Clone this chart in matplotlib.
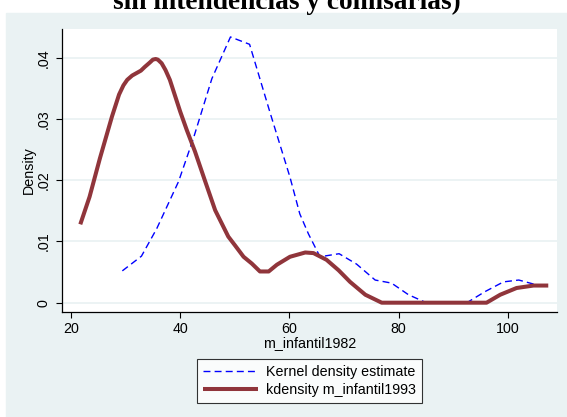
import numpy as np
import matplotlib
matplotlib.use('Agg')
import matplotlib.pyplot as plt
from matplotlib.patches import Rectangle

# kernel density 1982 (dashed blue)
x82 = [29.4, 32.9, 35.7, 39.7, 42.4, 45.8, 49.2, 52.7, 56.5, 60.1, 61.9, 63.5,
       65.6, 69.1, 72.3, 75.7, 78.7, 81.8, 84.8, 88.2, 92.5, 95.8, 99.2, 102.0, 105.3]
y82 = [0.0052, 0.0076, 0.0121, 0.0198, 0.0268, 0.0366, 0.0434, 0.0422, 0.0309,
       0.0205, 0.0145, 0.0112, 0.0075, 0.0080, 0.0063, 0.0037, 0.0032, 0.0013,
       0.0001, 0.0, 0.0, 0.0018, 0.0034, 0.0037, 0.0029]

# kdensity 1993 (thick maroon)
x93 = [21.7, 23.4, 25.3, 27.5, 28.8, 29.6, 30.3, 31.2, 32.0, 32.8, 33.5, 34.4,
       35.0, 35.5, 35.9, 36.6, 37.3, 38.1, 40.0, 41.2, 42.7, 44.5, 46.4, 48.8,
       50.0, 51.6, 53.1, 54.6, 56.2, 57.7, 60.1, 62.9, 64.4, 66.8, 69.0, 71.1,
       73.9, 76.9, 96.1, 98.6, 101.6, 104.7, 107.4]
y93 = [0.0128, 0.0173, 0.0236, 0.0304, 0.0340, 0.0355, 0.0364, 0.0371, 0.0375,
       0.0379, 0.0385, 0.0392, 0.0397, 0.0398, 0.0397, 0.0391, 0.0380, 0.0364,
       0.0312, 0.0282, 0.0247, 0.0200, 0.0151, 0.0108, 0.0094, 0.0075, 0.0064,
       0.0051, 0.0051, 0.0062, 0.0075, 0.0082, 0.0081, 0.0070, 0.0053, 0.0034,
       0.0013, 0.0, 0.0, 0.0013, 0.0024, 0.0028, 0.0028]

xticks = [20, 40, 60, 80, 100]
yticks = [0, 0.01, 0.02, 0.03, 0.04]
ylabels = ['0', '.01', '.02', '.03', '.04']

W, H = 567, 417
bg = '#EAF2F3'
plt.rcParams['font.family'] = ['Liberation Sans', 'DejaVu Sans']

fig = plt.figure(figsize=(W / 100, H / 100), dpi=100)
fig.patches.append(Rectangle((6 / W, 0), (W - 6) / W, (H - 13) / H,
                             transform=fig.transFigure, color=bg, zorder=-10))
fig.text(287 / W, 1 - 9.3 / H, 'sin intendencias y comisarias)', ha='center',
         va='baseline', fontfamily='Liberation Serif', fontweight='bold',
         fontsize=19.7)

ax = fig.add_axes([62 / W, (H - 312) / H, (557 - 62) / W, (312 - 29) / H])
ax.set_facecolor('white')
ax.plot(x82, y82, color='#0000FF', lw=1.0, linestyle=(0, (5, 3)),
        label='Kernel density estimate', zorder=3)
ax.plot(x93, y93, color='#90353B', lw=2.9, solid_joinstyle='round',
        solid_capstyle='butt', label='kdensity m_infantil1993', zorder=4)

ax.set_xlim(18.35, 109.0)
ax.set_ylim(-0.00152, 0.0447)
ax.set_xticks(xticks)
ax.set_yticks(yticks)
ax.set_yticklabels(ylabels, rotation=90, va='center')
ax.grid(axis='y', color=bg, lw=1.3, zorder=1)
ax.set_axisbelow(True)
for s in ['top', 'right']:
    ax.spines[s].set_visible(False)
for s in ['left', 'bottom']:
    ax.spines[s].set_linewidth(0.9)
ax.tick_params(direction='out', length=4, width=0.8, labelsize=10.3, pad=3)
ax.tick_params(axis='y', pad=4)
ax.set_xlabel('m_infantil1982', fontsize=10.3, labelpad=0)
ax.set_ylabel('Density', fontsize=10.3, labelpad=1)

leg = fig.legend(loc='center', bbox_to_anchor=(309.5 / W, 1 - 381 / H),
                 fontsize=10.3, frameon=True, fancybox=False, edgecolor='black',
                 handlelength=3.85, handletextpad=0.6, labelspacing=0.3,
                 borderpad=0.4, borderaxespad=0)
leg.get_frame().set_linewidth(0.8)

fig.savefig('out.png', dpi=100)
